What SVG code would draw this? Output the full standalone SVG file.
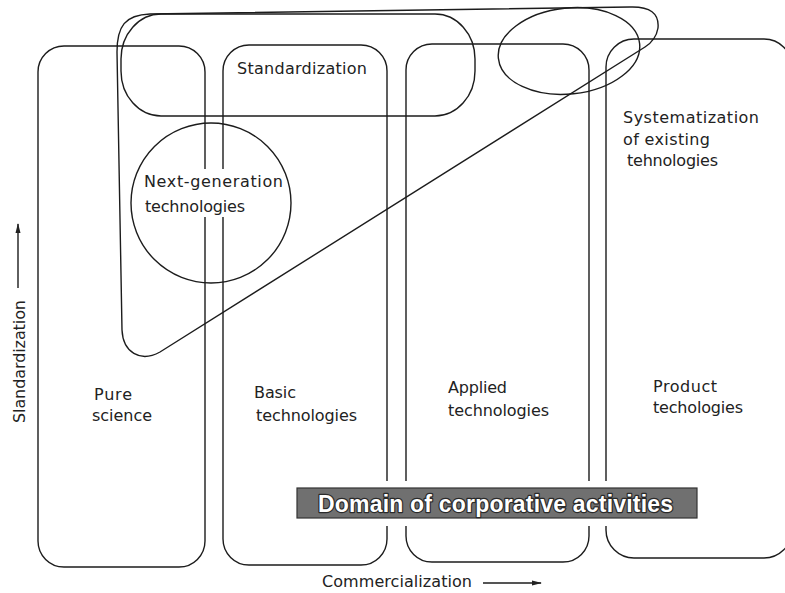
<svg xmlns="http://www.w3.org/2000/svg" width="785" height="593" viewBox="0 0 785 593">
<style>
.ln{fill:none;stroke:#1c1c1c;stroke-width:1.4}
.t{font-family:"DejaVu Sans","Liberation Sans",sans-serif;font-size:16px;fill:#222}
.mask{fill:#fff;stroke:none}
.dom{font-family:"Liberation Sans","DejaVu Sans",sans-serif;font-weight:bold;font-size:23px;fill:#fff;stroke:#2a2a2a;stroke-width:2.4;paint-order:stroke;stroke-linejoin:round}
</style>
<defs>
<marker id="ah" viewBox="0 0 10 6" refX="9" refY="3" markerWidth="10" markerHeight="6" markerUnits="userSpaceOnUse" orient="auto">
<path d="M0,0.5 L10,3 L0,5.5 Z" fill="#222"/>
</marker>
</defs>
<rect width="785" height="593" fill="#fff"/>
<g id="pure-science">
<rect class="ln" x="38" y="46" width="167" height="521" rx="26"/>
</g>
<g id="basic-technologies">
<rect class="ln" x="223" y="45" width="164" height="520" rx="26"/>
</g>
<g id="applied-technologies">
<rect class="ln" x="406" y="44" width="183" height="518" rx="26"/>
</g>
<g id="product-technologies">
<rect class="ln" x="606" y="39" width="186" height="519" rx="28"/>
</g>
<g id="standardization">
<rect class="ln" x="121" y="14" width="354" height="102" rx="40" ry="45"/>
</g>
<g id="systematization-region">
<path class="ln" d="M117,52 C117,26 125,15 150,14 L630,7 Q660,6 658,28 Q656,40 645,47 L160,352 C140,363 123,352 122,330 Z"/>
</g>
<g id="top-ellipse">
<ellipse class="ln" cx="569" cy="51" rx="71" ry="43" transform="rotate(-6 569 51)"/>
</g>
<g id="next-generation">
<circle class="ln" cx="211" cy="203" r="80"/>
</g>
<g id="masks">
<rect class="mask" x="196" y="169" width="34" height="48"/>
<rect class="mask" x="292" y="481" width="410" height="45"/>
</g>
<g id="labels">
<text class="t" x="237" y="74" textLength="130">Standardization</text>
<text class="t" x="623" y="123" textLength="136">Systematization</text>
<text class="t" x="623" y="145" textLength="87">of existing</text>
<text class="t" x="627" y="166" textLength="91">tehnologies</text>
<text class="t" x="144" y="187" textLength="139">Next-generation</text>
<text class="t" x="145" y="212" textLength="100">technologies</text>
<text class="t" x="94" y="400" textLength="38">Pure</text>
<text class="t" x="92" y="421" textLength="60">science</text>
<text class="t" x="254" y="398" textLength="42">Basic</text>
<text class="t" x="256" y="421" textLength="101">technologies</text>
<text class="t" x="448" y="393" textLength="59">Applied</text>
<text class="t" x="448" y="416" textLength="101">technologies</text>
<text class="t" x="653" y="392" textLength="64">Product</text>
<text class="t" x="653" y="413" textLength="90">techologies</text>
</g>
<g id="domain">
<rect x="297" y="488" width="400" height="30" fill="#707070" stroke="#333" stroke-width="1.2"/>
<text class="dom" x="318" y="512" textLength="355">Domain of corporative activities</text>
</g>
<g id="axes">
<text class="t" transform="translate(24.5,423) rotate(-90)" textLength="123">Slandardization</text>
<line class="ln" x1="18" y1="288" x2="18" y2="224" marker-end="url(#ah)"/>
<text class="t" x="322" y="587" textLength="150">Commercialization</text>
<line class="ln" x1="483" y1="583" x2="541" y2="583" marker-end="url(#ah)"/>
</g>
</svg>
